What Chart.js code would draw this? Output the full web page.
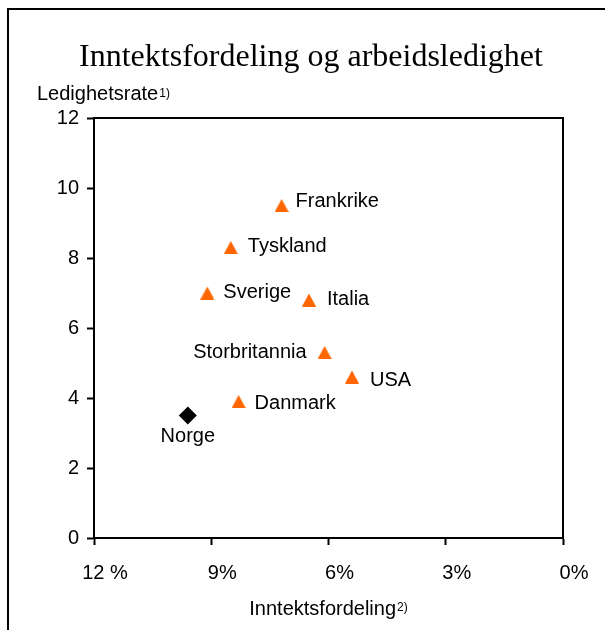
<!DOCTYPE html>
<html>
<head>
<meta charset="utf-8">
<script src="https://cdn.jsdelivr.net/npm/chart.js@4.4.1/dist/chart.umd.min.js"></script>
<style>
  html, body { margin: 0; padding: 0; background: #fff; }
  canvas { display: block; }
</style>
</head>
<body>
<canvas id="scatterChart" width="605" height="630" style="width:605px;height:630px"></canvas>
<script>
// Data
const countries = ["Frankrike", "Tyskland", "Sverige", "Italia", "Storbritannia", "USA", "Danmark"];
const incomeDistribution = [7.2, 8.5, 9.1, 6.5, 6.1, 5.4, 8.3];
const unemploymentRate = [9.5, 8.3, 7.0, 6.8, 5.3, 4.6, 3.9];
const norwayName = ["Norge"];
const norwayIncome = [9.6];
const norwayUnemployment = [3.5];
const xTickLabels = { 12: "12 %", 9: "9%", 6: "6%", 3: "3%", 0: "0%" };
const yTickValues = [0, 2, 4, 6, 8, 10, 12];

// Where each name sits relative to its marker
const labelPlacement = {
  Frankrike: { dx: 14, dy: -4, align: "left" },
  Tyskland: { dx: 17, dy: -1, align: "left" },
  Sverige: { dx: 16, dy: -1, align: "left" },
  Italia: { dx: 18, dy: -1, align: "left" },
  Storbritannia: { dx: -18, dy: 0, align: "right" },
  USA: { dx: 18, dy: 3, align: "left" },
  Danmark: { dx: 16, dy: 2, align: "left" },
  Norge: { dx: 0, dy: 21, align: "center" },
};

const sansFont = '"Liberation Sans", Arial, sans-serif';
const serifFont = '"Liberation Serif", "Times New Roman", serif';

// Triangle marker centred on its bounding box (like the original)
const triangleMarker = (() => {
  const c = document.createElement("canvas");
  c.width = 14;
  c.height = 13;
  const g = c.getContext("2d");
  g.fillStyle = "#FF6600";
  g.beginPath();
  g.moveTo(7, 0);
  g.lineTo(14, 13);
  g.lineTo(0, 13);
  g.closePath();
  g.fill();
  return c;
})();

// Outer frame, plot box, titles
const decorations = {
  id: "decorations",
  beforeDraw(chart) {
    const ctx = chart.ctx;
    ctx.save();
    ctx.fillStyle = "#fff";
    ctx.fillRect(0, 0, chart.width, chart.height);
    ctx.strokeStyle = "#000";
    ctx.lineWidth = 2;
    ctx.strokeRect(8, 9, 800, 800);
    ctx.restore();
  },
  afterDraw(chart) {
    const ctx = chart.ctx;
    const area = chart.chartArea;
    ctx.save();
    ctx.strokeStyle = "#000";
    ctx.lineWidth = 2;
    ctx.strokeRect(area.left, area.top, area.right - area.left, area.bottom - area.top);

    ctx.fillStyle = "#000";
    ctx.textBaseline = "alphabetic";

    // chart title
    ctx.font = "32px " + serifFont;
    ctx.textAlign = "center";
    ctx.fillText("Inntektsfordeling og arbeidsledighet", 311, 66);

    // y axis title with superscript
    ctx.textAlign = "left";
    ctx.font = "20px " + sansFont;
    const yTitle = "Ledighetsrate";
    ctx.fillText(yTitle, 37, 100);
    const yW = ctx.measureText(yTitle).width;
    ctx.font = "12px " + sansFont;
    ctx.fillText("1)", 37 + yW + 1, 97);

    // x axis title with superscript
    ctx.font = "20px " + sansFont;
    const xTitle = "Inntektsfordeling";
    const xW = ctx.measureText(xTitle).width;
    ctx.font = "12px " + sansFont;
    const supW = ctx.measureText("2)").width;
    const startX = (area.left + area.right) / 2 - (xW + supW + 1) / 2;
    ctx.font = "20px " + sansFont;
    ctx.fillText(xTitle, startX, 615);
    ctx.font = "12px " + sansFont;
    ctx.fillText("2)", startX + xW + 1, 611);
    ctx.restore();
  },
};

// Country names next to the markers
const pointLabels = {
  id: "pointLabels",
  afterDatasetsDraw(chart) {
    const ctx = chart.ctx;
    ctx.save();
    ctx.font = "20px " + sansFont;
    ctx.fillStyle = "#000";
    ctx.textBaseline = "middle";
    chart.data.datasets.forEach((ds, i) => {
      const meta = chart.getDatasetMeta(i);
      meta.data.forEach((pt, j) => {
        const name = ds.names[j];
        const p = labelPlacement[name];
        ctx.textAlign = p.align;
        ctx.fillText(name, pt.x + p.dx, pt.y + p.dy);
      });
    });
    ctx.restore();
  },
};

const ctx = document.getElementById("scatterChart").getContext("2d");

new Chart(ctx, {
  type: "scatter",
  data: {
    datasets: [
      {
        label: "Land",
        names: countries,
        data: incomeDistribution.map((x, i) => ({ x: x, y: unemploymentRate[i] })),
        pointStyle: triangleMarker,
        pointRadius: 7,
        pointHoverRadius: 7,
      },
      {
        label: "Norge",
        names: norwayName,
        data: norwayIncome.map((x, i) => ({ x: x, y: norwayUnemployment[i] })),
        pointStyle: "rectRot",
        pointRadius: 9,
        pointHoverRadius: 9,
        backgroundColor: "#000",
        borderColor: "#000",
        borderWidth: 0,
      },
    ],
  },
  options: {
    responsive: false,
    animation: false,
    devicePixelRatio: 1,
    layout: {
      padding: { left: 0, top: 118, right: 42, bottom: 0 },
    },
    plugins: {
      legend: { display: false },
      title: { display: false },
      tooltip: { enabled: false },
    },
    scales: {
      x: {
        type: "linear",
        reverse: true,
        min: 0,
        max: 12,
        afterFit: (scale) => { scale.height = 92; },
        afterBuildTicks: (scale) => {
          scale.ticks = Object.keys(xTickLabels).map((v) => ({ value: Number(v) }));
        },
        border: { display: true, color: "#000", width: 2 },
        grid: {
          drawOnChartArea: false,
          drawTicks: true,
          tickLength: 7,
          tickColor: "#000",
          tickWidth: 2,
        },
        ticks: {
          color: "#000",
          font: { family: sansFont, size: 20 },
          padding: 16,
          labelOffset: 11,
          maxRotation: 0,
          autoSkip: false,
          callback: (value) => xTickLabels[value],
        },
      },
      y: {
        type: "linear",
        min: 0,
        max: 12,
        afterFit: (scale) => { scale.width = 94; },
        afterBuildTicks: (scale) => {
          scale.ticks = yTickValues.map((v) => ({ value: v }));
        },
        border: { display: true, color: "#000", width: 2 },
        grid: {
          drawOnChartArea: false,
          drawTicks: true,
          tickLength: 7,
          tickColor: "#000",
          tickWidth: 2,
        },
        ticks: {
          color: "#000",
          font: { family: sansFont, size: 20 },
          padding: 8,
          autoSkip: false,
        },
      },
    },
  },
  plugins: [decorations, pointLabels],
});
</script>
</body>
</html>
